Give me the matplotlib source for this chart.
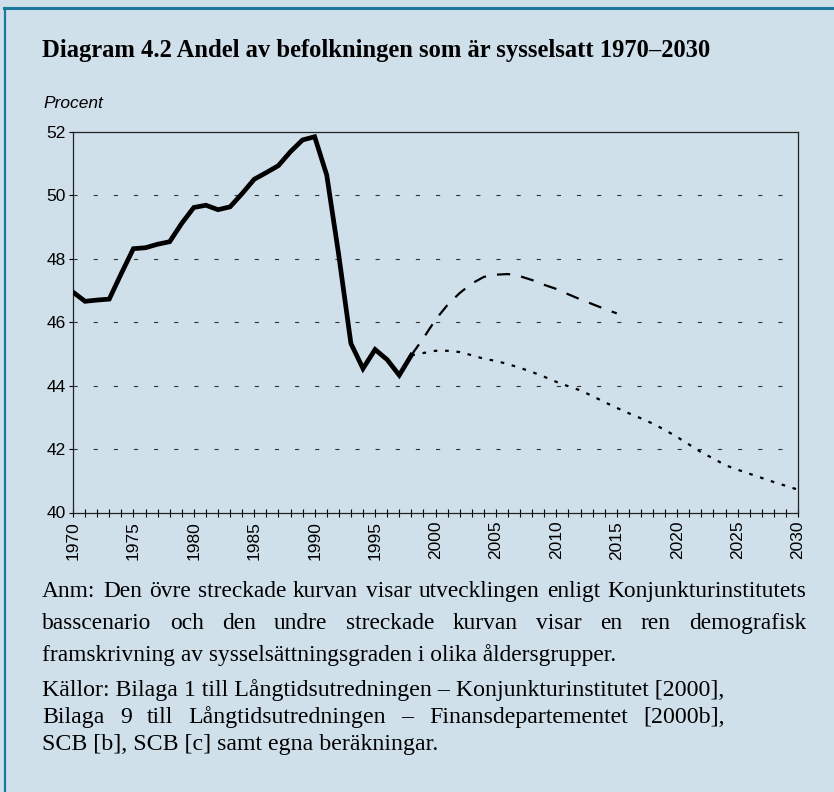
import matplotlib

matplotlib.use("Agg")
import matplotlib.pyplot as plt
from matplotlib.lines import Line2D

plt.rcParams.update({"font.family": "Liberation Sans", "lines.scale_dashes": False})

BG = "#cfe0ea"
FRAME = "#1b7a9c"

years_hist = list(range(1970, 1999))
empl_hist = [46.95, 46.66, 46.70, 46.73, 47.54, 48.32, 48.35, 48.46, 48.54, 49.12,
             49.62, 49.69, 49.55, 49.64, 50.06, 50.51, 50.72, 50.94, 51.38, 51.75,
             51.85, 50.64, 48.10, 45.33, 44.54, 45.14, 44.82, 44.33, 44.96]

years_base = list(range(1998, 2016))
empl_base = [44.96, 45.50, 46.08, 46.55, 46.92, 47.22, 47.43, 47.50, 47.52, 47.45,
             47.33, 47.18, 47.05, 46.88, 46.72, 46.57, 46.42, 46.28]

years_demo = list(range(1998, 2031))
empl_demo = [44.96, 45.03, 45.10, 45.10, 45.06, 44.96, 44.85, 44.78, 44.68, 44.56,
             44.43, 44.28, 44.12, 43.98, 43.85, 43.67, 43.48, 43.30, 43.13, 42.97,
             42.80, 42.60, 42.38, 42.14, 41.90, 41.70, 41.49, 41.35, 41.22, 41.09,
             40.96, 40.84, 40.72]

y_ticks = [40, 42, 44, 46, 48, 50, 52]
x_labels = list(range(1970, 2031, 5))

title = "Diagram 4.2 Andel av befolkningen som är sysselsatt 1970–2030"
note_lines = [
    "Anm: Den övre streckade kurvan visar utvecklingen enligt Konjunkturinstitutets",
    "basscenario och den undre streckade kurvan visar en ren demografisk",
    "framskrivning av sysselsättningsgraden i olika åldersgrupper.",
]
source_lines = [
    "Källor: Bilaga 1 till Långtidsutredningen – Konjunkturinstitutet [2000],",
    "Bilaga 9 till Långtidsutredningen – Finansdepartementet [2000b],",
    "SCB [b], SCB [c] samt egna beräkningar.",
]

W, H = 834, 792
fig = plt.figure(figsize=(W / 100, H / 100), dpi=100, facecolor=BG)
ax = fig.add_axes([73 / W, 1 - 512.5 / H, (798 - 73) / W, (512.5 - 132) / H])
ax.set_facecolor(BG)

for y in y_ticks[1:-1]:
    ax.axhline(y, color="#333333", lw=0.8, linestyle=(0, (3, 11.5)), zorder=1)

ax.plot(years_demo, empl_demo, color="black", lw=1.6, linestyle=(0, (2.6, 5.6)),
        zorder=2)
ax.plot(years_base, empl_base, color="black", lw=1.6, linestyle=(0, (9.5, 8)),
        zorder=2)
ax.plot(years_hist, empl_hist, color="black", lw=3.4, solid_joinstyle="miter",
        zorder=3)

ax.set_xlim(1970, 2030)
ax.set_ylim(40, 52)
ax.set_yticks(y_ticks)
ax.set_xticks(range(1970, 2031))
ax.set_xticklabels([str(v) if v in x_labels else "" for v in range(1970, 2031)],
                   rotation=90, fontsize=12.5)
ax.tick_params(axis="x", direction="inout", length=6, width=0.8, pad=3)
ax.tick_params(axis="y", direction="out", length=3, width=0.8, pad=2, labelsize=12.5)
for s in ax.spines.values():
    s.set_linewidth(0.9)
    s.set_color("#222222")

fig.text(43 / W, 1 - 103 / H, "Procent", fontsize=12.5, style="italic",
         ha="left", va="center")
fig.text(42 / W, 1 - 51 / H, title, family="Liberation Serif", weight="bold",
         fontsize=17.7, ha="left", va="center")

# frame: thick top rule and thin left rule
fig.add_artist(Line2D([4 / W, 1], [1 - 8 / H, 1 - 8 / H], color=FRAME, lw=2.2))
fig.add_artist(Line2D([5 / W, 5 / W], [0, 1 - 8 / H], color=FRAME, lw=1.6))

renderer = fig.canvas.get_renderer()


def put(line, y, **kw):
    return fig.text(42 / W, 1 - y / H, line, ha="left", va="baseline", **kw)


def justified(words, x0, x1, y, **kw):
    texts = [fig.text(0, 1 - y / H, w, ha="left", va="baseline", **kw) for w in words]
    widths = [t.get_window_extent(renderer).width for t in texts]
    gap = (x1 - x0 - sum(widths)) / (len(words) - 1)
    x = x0
    for t, w in zip(texts, widths):
        t.set_x(round(x) / W)
        x += w + gap


note_kw = dict(family="Liberation Serif", fontsize=16.8)
src_kw = dict(family="Liberation Serif", fontsize=17.2)
justified(note_lines[0].split(), 42, 806, 597, **note_kw)
justified(note_lines[1].split(), 42, 806, 629, **note_kw)
put(note_lines[2], 661, **note_kw)
first = put(source_lines[0], 696, **src_kw)
right = 42 + first.get_window_extent(renderer).width
justified(source_lines[1].split(), 42, right, 723, **src_kw)
put(source_lines[2], 750, **src_kw)

fig.savefig("out.png", dpi=100, facecolor=BG)
